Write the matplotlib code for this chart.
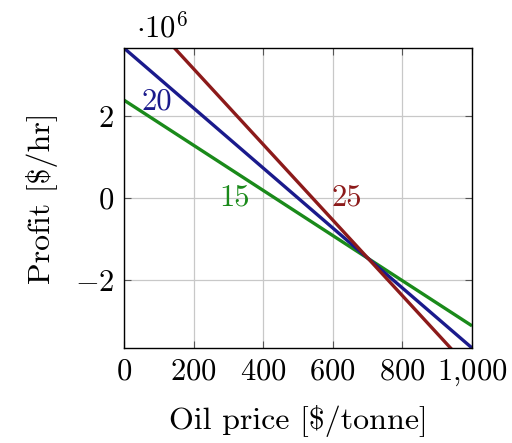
import numpy as np
import matplotlib
matplotlib.use("Agg")
import matplotlib.pyplot as plt

plt.rcParams['font.family'] = 'serif'
plt.rcParams['font.serif'] = ['cmr10']
plt.rcParams['mathtext.fontset'] = 'cm'
plt.rcParams['axes.formatter.use_mathtext'] = True

# oil price [$/tonne] and profit [1e6 $/hr] for three cases
oil_price = [0, 1000]
profit_15 = [2.39, -3.12]
profit_20 = [3.66, -3.66]
profit_25 = [5.0, -4.23]

labels = ['15', '20', '25']
label_pos = [(319, 0.0), (95, 2.34), (641, 0.0)]
colors = ['#1a8a1a', '#1a1a8c', '#8c1a1a']

xticks = [0, 200, 400, 600, 800, 1000]
xticklabels = ['$0$', '$200$', '$400$', '$600$', '$800$', '$1{,}000$']
yticks = [-2, 0, 2]
yticklabels = ['$-2$', '$0$', '$2$']

fs = 22

fig = plt.figure(figsize=(5.12, 4.43), dpi=100)
ax = fig.add_axes([0.242, 0.2144, 0.68, 0.6772])

for ys, c in zip([profit_15, profit_20, profit_25], colors):
    ax.plot(oil_price, ys, color=c, lw=2.4, solid_capstyle='butt')

for lab, (x, y), c in zip(labels, label_pos, colors):
    ax.text(x, y, lab, color=c, fontsize=fs, ha='center', va='center')

ax.set_xlim(0, 1000)
ax.set_ylim(-3.66, 3.66)
ax.set_xticks(xticks)
ax.set_xticklabels(xticklabels, fontsize=fs)
ax.set_yticks(yticks)
ax.set_yticklabels(yticklabels, fontsize=fs)
ax.tick_params(direction='in', top=True, right=True, length=5, width=0.8, color='#555555', pad=7)
ax.grid(True, color='#c8c8c8', lw=0.9)
ax.set_axisbelow(True)
for s in ax.spines.values():
    s.set_linewidth(1.0)

ax.set_xlabel('Oil price [\\$/tonne]', fontsize=23, labelpad=12)
ax.set_ylabel('Profit [\\$/hr]', fontsize=23, labelpad=12)
ax.text(0.035, 1.015, r'$\cdot10^6$', transform=ax.transAxes, fontsize=fs, ha='left', va='bottom')

fig.savefig('out.png', dpi=100)
